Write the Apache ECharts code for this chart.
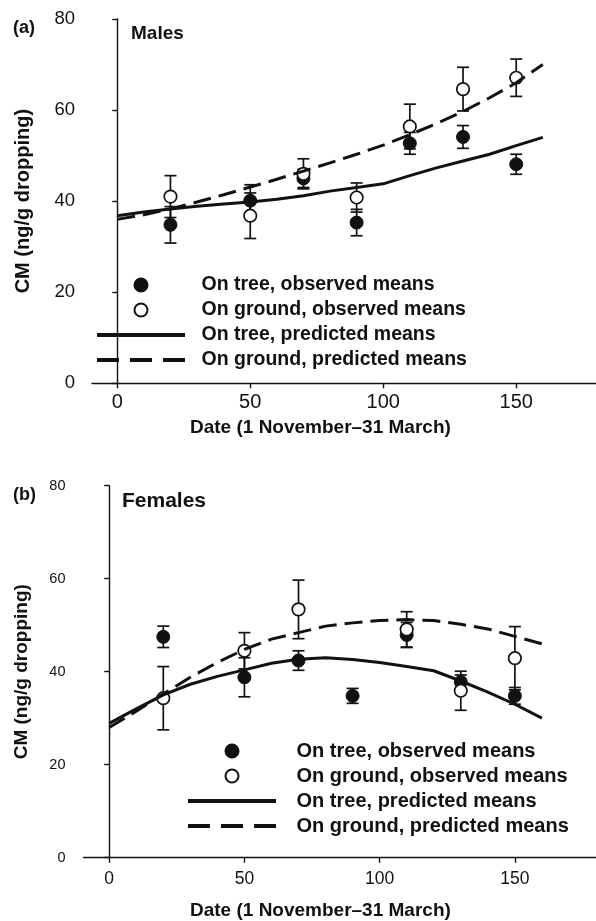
<!DOCTYPE html>
<html>
<head>
<meta charset="utf-8">
<script src="https://cdn.jsdelivr.net/npm/echarts@6/dist/echarts.min.js"></script>
<style>
  html, body { margin: 0; background: #fff; }
  #chart { width: 596px; height: 921px; }
</style>
</head>
<body>
<div id="chart"></div>
<script>
// x ticks shared by both panels
var xTicks = [0, 50, 100, 150];

// (a) males, observed means +- error
var maleTreeX = [20, 50, 70, 90, 110, 130, 150];
var maleTreeMean = [34.8, 40.1, 45.0, 35.3, 52.7, 54.1, 48.1];
var maleTreeErr = [4.0, 3.5, 2.0, 2.9, 2.4, 2.5, 2.2];
var maleGroundX = [20, 50, 70, 90, 110, 130, 150];
var maleGroundMean = [41.0, 36.8, 46.0, 40.8, 56.4, 64.6, 67.1];
var maleGroundErr = [4.6, 5.0, 3.3, 3.2, 4.9, 4.8, 4.1];

// predicted means, evaluated every 10 days
var predX = [0, 10, 20, 30, 40, 50, 60, 70, 80, 90, 100, 110, 120, 130, 140, 150, 160];
var malePredTree = [36.8, 37.6, 38.3, 38.9, 39.4, 39.8, 40.4, 41.2, 42.2, 43.0, 43.8, 45.6, 47.3, 48.8, 50.3, 52.2, 54.0];
var malePredGround = [36.0, 37.0, 38.3, 39.8, 41.4, 43.1, 44.8, 46.6, 48.4, 50.3, 52.3, 54.6, 57.0, 59.7, 62.7, 66.0, 70.0];

// (b) females
var femaleTreeX = [20, 50, 70, 90, 110, 130, 150];
var femaleTreeMean = [47.5, 38.8, 42.4, 34.8, 47.9, 37.8, 34.8];
var femaleTreeErr = [2.3, 4.2, 2.1, 1.6, 2.7, 1.5, 1.8];
var femaleGroundX = [20, 50, 70, 110, 130, 150];
var femaleGroundMean = [34.3, 44.5, 53.4, 49.1, 35.9, 42.9];
var femaleGroundErr = [6.8, 3.9, 6.3, 3.8, 4.2, 6.8];
var femalePredTree = [28.9, 32.0, 35.0, 37.3, 39.0, 40.4, 41.8, 42.7, 43.0, 42.6, 42.0, 41.1, 40.2, 38.0, 35.6, 33.0, 30.0];
var femalePredGround = [28.0, 31.5, 35.2, 38.8, 42.0, 44.8, 47.0, 48.4, 49.8, 50.5, 51.0, 51.2, 51.0, 50.2, 49.2, 47.6, 46.0];

var names = ['On tree, observed means', 'On ground, observed means',
             'On tree, predicted means', 'On ground, predicted means'];

var FONT = '"Liberation Sans", Arial, Helvetica, sans-serif';
var INK = '#111';
var NONE = 'rgba(0,0,0,0)';

function pairs(xs, ys) {
  return xs.map(function (x, i) { return [x, ys[i]]; });
}

function errorSeries(idx, xs, ys, es) {
  return {
    type: 'custom',
    xAxisIndex: idx, yAxisIndex: idx,
    z: 1,
    silent: true,
    encode: { x: 0, y: [1, 2] },
    data: xs.map(function (x, i) { return [x, ys[i] - es[i], ys[i] + es[i]]; }),
    renderItem: function (params, api) {
      var top = api.coord([api.value(0), api.value(2)]);
      var bot = api.coord([api.value(0), api.value(1)]);
      var w = 6;
      var st = { stroke: INK, lineWidth: 1.7 };
      return {
        type: 'group',
        children: [
          { type: 'line', shape: { x1: top[0], y1: top[1], x2: bot[0], y2: bot[1] }, style: st },
          { type: 'line', shape: { x1: top[0] - w, y1: top[1], x2: top[0] + w, y2: top[1] }, style: st },
          { type: 'line', shape: { x1: bot[0] - w, y1: bot[1], x2: bot[0] + w, y2: bot[1] }, style: st }
        ]
      };
    }
  };
}

function panelSeries(idx, treeX, treeM, treeE, grX, grM, grE, pTree, pGround) {
  return [
    errorSeries(idx, treeX, treeM, treeE),
    errorSeries(idx, grX, grM, grE),
    {
      name: names[0], type: 'scatter', xAxisIndex: idx, yAxisIndex: idx, z: 2,
      symbol: 'circle', symbolSize: 13,
      itemStyle: { color: INK, borderColor: INK, borderWidth: 1, opacity: 1 },
      data: pairs(treeX, treeM)
    },
    {
      name: names[1], type: 'scatter', xAxisIndex: idx, yAxisIndex: idx, z: 3,
      symbol: 'circle', symbolSize: 12.5,
      itemStyle: { color: '#fff', borderColor: INK, borderWidth: 1.7, opacity: 1 },
      data: pairs(grX, grM)
    },
    {
      name: names[2], type: 'line', xAxisIndex: idx, yAxisIndex: idx, z: 4,
      symbol: 'none', smooth: false,
      itemStyle: { color: INK },
      lineStyle: { color: INK, width: 3, type: 'solid' },
      data: pairs(predX, pTree)
    },
    {
      name: names[3], type: 'line', xAxisIndex: idx, yAxisIndex: idx, z: 4,
      symbol: 'none', smooth: false,
      itemStyle: { color: INK },
      lineStyle: { color: INK, width: 3, type: [18, 8] },
      data: pairs(predX, pGround)
    }
  ];
}

function xAxisOf(idx, labelSize, margin) {
  return {
    type: 'value', gridIndex: idx, min: -9.5, max: 180,
    axisLine: { show: true, lineStyle: { color: INK, width: 1.4 } },
    axisTick: { show: true, length: 5, customValues: xTicks, lineStyle: { color: INK, width: 1.4 } },
    axisLabel: { customValues: xTicks, fontFamily: FONT, fontSize: labelSize, color: INK, margin: margin },
    splitLine: { show: false }
  };
}

function yAxisOf(idx, labelSize, offset, nameSize, nameGap) {
  return {
    type: 'value', gridIndex: idx, min: 0, max: 80, interval: 20, offset: offset,
    name: 'CM (ng/g dropping)', nameLocation: 'middle', nameGap: nameGap,
    nameTextStyle: { fontFamily: FONT, fontSize: nameSize, fontWeight: 'bold', color: INK },
    axisLine: { show: true, lineStyle: { color: INK, width: 1.4 } },
    axisTick: { show: true, length: 5, lineStyle: { color: INK, width: 1.4 } },
    axisLabel: { fontFamily: FONT, fontSize: labelSize, color: INK, margin: 12 },
    splitLine: { show: false }
  };
}

function legendOf(left, top, textPad, size) {
  var hidden = { color: NONE, borderColor: NONE, borderWidth: 0 };
  return {
    orient: 'vertical', left: left, top: top, padding: 0,
    itemWidth: 88, itemHeight: 13, itemGap: 0, selectedMode: false,
    data: [
      names[0], names[1],
      { name: names[2], itemStyle: hidden, lineStyle: { width: 4 } },
      { name: names[3], itemStyle: hidden, lineStyle: { width: 4, type: [22, 11] } }
    ],
    textStyle: {
      fontFamily: FONT, fontSize: size, fontWeight: 'bold', color: INK,
      lineHeight: 25, padding: [0, 0, 0, textPad]
    }
  };
}

function label(text, left, top, size) {
  return {
    text: text, left: left, top: top, padding: 0,
    textStyle: { fontFamily: FONT, fontSize: size, fontWeight: 'bold', color: INK }
  };
}

var chart = echarts.init(document.getElementById('chart'));
chart.setOption({
  backgroundColor: '#fff',
  animation: false,
  title: [
    label('(a)', 13, 19, 18),
    label('Males', 131, 24, 19),
    label('Date (1 November\u201331 March)', 190, 418, 19),
    label('(b)', 13, 486, 18),
    label('Females', 122, 491, 21),
    label('Date (1 November\u201331 March)', 190, 901, 19)
  ],
  legend: [
    legendOf(95, 272.5, 11.5, 19.5),
    legendOf(186, 738.5, 15.5, 20)
  ],
  grid: [
    { left: 92, top: 19, width: 505, height: 364.3 },
    { left: 83.5, top: 485.7, width: 515, height: 372 }
  ],
  xAxis: [xAxisOf(0, 20, 9), xAxisOf(1, 17.5, 12)],
  yAxis: [yAxisOf(0, 18.5, 5, 20, 54), yAxisOf(1, 14.5, 6, 19, 46)],
  series: panelSeries(0, maleTreeX, maleTreeMean, maleTreeErr,
                      maleGroundX, maleGroundMean, maleGroundErr,
                      malePredTree, malePredGround)
    .concat(panelSeries(1, femaleTreeX, femaleTreeMean, femaleTreeErr,
                        femaleGroundX, femaleGroundMean, femaleGroundErr,
                        femalePredTree, femalePredGround))
});
</script>
</body>
</html>
